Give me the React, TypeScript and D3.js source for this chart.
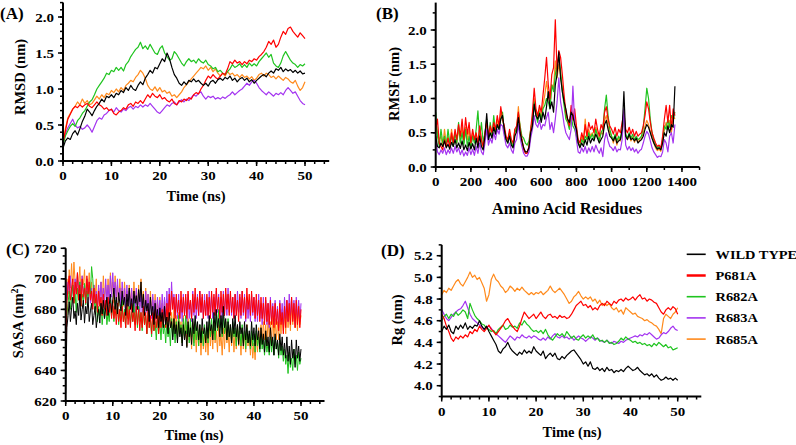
import React from 'react';
import * as d3 from 'd3';

// ---------- series metadata ----------
const seriesNames = ['WILD TYPE', 'P681A', 'R682A', 'R683A', 'R685A'];
const seriesColors = ['#000000', '#ff0000', '#1fc41f', '#a434f0', '#ff8a1c'];

// ---------- Panel A: RMSD (nm), time 0-50 ns, 0.5 ns step ----------
const rmsdWT = [0.18,0.28,0.32,0.30,0.38,0.42,0.36,0.45,0.55,0.62,0.72,0.68,0.63,0.70,0.76,0.80,0.86,0.82,0.90,0.88,0.92,0.88,0.94,0.92,0.98,0.95,1.02,0.98,1.05,1.00,0.98,1.05,1.10,1.06,1.15,1.20,1.26,1.22,1.30,1.28,1.35,1.42,1.38,1.50,1.42,1.30,1.20,1.15,1.08,1.05,1.10,1.06,1.12,1.10,1.14,1.10,1.12,1.08,1.05,1.08,1.04,1.10,1.12,1.08,1.13,1.15,1.12,1.16,1.14,1.18,1.12,1.15,1.10,1.14,1.16,1.12,1.15,1.10,1.13,1.08,1.12,1.15,1.18,1.20,1.17,1.22,1.25,1.22,1.28,1.26,1.30,1.24,1.28,1.25,1.27,1.23,1.26,1.22,1.25,1.21,1.22];
const rmsdP681A = [0.25,0.42,0.58,0.65,0.72,0.76,0.74,0.78,0.75,0.78,0.80,0.76,0.74,0.78,0.82,0.78,0.76,0.72,0.74,0.70,0.72,0.66,0.64,0.68,0.70,0.74,0.72,0.78,0.80,0.76,0.82,0.80,0.84,0.80,0.86,0.92,0.88,0.94,0.90,0.88,0.92,0.86,0.88,0.84,0.82,0.86,0.80,0.78,0.84,0.82,0.86,0.84,0.88,0.86,0.92,0.95,0.93,1.00,1.05,1.12,1.18,1.15,1.20,1.16,1.14,1.18,1.22,1.20,1.28,1.38,1.35,1.40,1.36,1.38,1.34,1.38,1.35,1.40,1.38,1.42,1.40,1.45,1.48,1.52,1.58,1.66,1.62,1.68,1.58,1.62,1.72,1.80,1.76,1.84,1.86,1.80,1.76,1.72,1.78,1.74,1.70];
const rmsdR682A = [0.22,0.35,0.42,0.48,0.52,0.48,0.56,0.60,0.66,0.70,0.76,0.82,0.85,0.92,1.00,1.05,1.10,1.15,1.22,1.20,1.26,1.24,1.30,1.26,1.30,1.25,1.34,1.38,1.45,1.50,1.55,1.58,1.65,1.56,1.60,1.55,1.62,1.56,1.50,1.48,1.56,1.60,1.50,1.45,1.40,1.42,1.52,1.48,1.42,1.36,1.32,1.38,1.42,1.38,1.40,1.36,1.42,1.38,1.36,1.40,1.34,1.32,1.28,1.30,1.24,1.26,1.22,1.20,1.24,1.28,1.34,1.30,1.32,1.35,1.30,1.34,1.30,1.36,1.32,1.35,1.32,1.38,1.42,1.46,1.50,1.44,1.48,1.36,1.32,1.30,1.36,1.46,1.52,1.46,1.40,1.36,1.34,1.30,1.34,1.32,1.35];
const rmsdR683A = [0.25,0.38,0.46,0.52,0.58,0.50,0.46,0.48,0.44,0.46,0.50,0.46,0.40,0.48,0.56,0.60,0.58,0.64,0.66,0.70,0.72,0.68,0.74,0.70,0.68,0.72,0.70,0.74,0.76,0.72,0.76,0.74,0.78,0.75,0.78,0.76,0.80,0.76,0.72,0.68,0.66,0.70,0.74,0.78,0.76,0.80,0.82,0.78,0.82,0.85,0.82,0.86,0.84,0.88,0.92,0.90,0.94,0.96,0.90,0.86,0.90,0.88,0.90,0.86,0.88,0.86,0.89,0.87,0.90,0.92,0.96,0.92,0.95,0.98,1.00,1.04,1.08,1.05,1.10,1.12,1.08,1.02,0.98,0.95,0.92,0.96,0.93,0.90,0.94,0.92,0.95,0.92,0.98,1.02,0.98,0.94,0.96,0.90,0.84,0.80,0.78];
const rmsdR685A = [0.25,0.45,0.60,0.66,0.72,0.76,0.82,0.78,0.86,0.80,0.84,0.78,0.80,0.85,0.90,0.86,0.92,0.88,0.94,0.92,0.98,0.95,1.00,0.96,1.02,0.98,1.05,1.08,1.12,1.10,1.16,1.20,1.26,1.22,1.15,1.05,1.00,0.98,1.03,0.97,1.02,0.96,0.98,0.94,0.96,0.90,0.92,0.88,0.92,0.96,1.02,1.06,1.10,1.14,1.18,1.22,1.26,1.30,1.28,1.32,1.26,1.30,1.24,1.28,1.22,1.18,1.22,1.18,1.24,1.20,1.22,1.18,1.20,1.16,1.20,1.16,1.18,1.14,1.17,1.12,1.15,1.20,1.22,1.18,1.22,1.20,1.16,1.18,1.14,1.18,1.15,1.12,1.16,1.14,1.10,1.08,1.12,1.04,0.98,1.02,1.10];

// ---------- Panel B: RMSF (nm), residues 0-1360, 10-residue step ----------
const rmsfWT = [0.45,0.30,0.28,0.35,0.30,0.38,0.28,0.33,0.26,0.36,0.30,0.40,0.28,0.35,0.27,0.38,0.25,0.32,0.24,0.36,0.26,0.34,0.25,0.42,0.28,0.45,0.30,0.25,0.45,0.78,0.40,0.50,0.42,0.58,0.48,0.62,0.55,0.70,0.75,0.55,0.40,0.35,0.45,0.32,0.28,0.45,0.52,0.72,0.50,0.38,0.28,0.22,0.22,0.28,0.50,0.60,0.92,0.75,0.70,0.78,0.65,0.80,0.70,0.88,1.10,0.85,0.95,0.80,1.20,1.35,1.68,1.30,1.10,0.95,0.85,0.70,0.65,0.80,0.75,0.62,0.55,0.35,0.28,0.35,0.30,0.40,0.32,0.45,0.35,0.42,0.38,0.48,0.42,0.35,0.40,0.45,0.62,0.68,0.55,0.45,0.42,0.38,0.45,0.35,0.38,0.40,0.55,1.10,0.45,0.40,0.48,0.40,0.42,0.38,0.42,0.35,0.38,0.40,0.45,0.55,0.62,0.58,0.50,0.42,0.35,0.30,0.26,0.28,0.25,0.35,0.50,0.45,0.60,0.50,0.62,0.58,1.18];
const rmsfP681A = [0.55,0.70,0.35,0.30,0.25,0.40,0.30,0.42,0.28,0.50,0.35,0.55,0.40,0.62,0.45,0.70,0.40,0.72,0.48,0.65,0.35,0.55,0.40,0.50,0.35,0.60,0.40,0.30,0.50,0.65,0.45,0.60,0.50,0.65,0.55,0.75,0.60,0.88,0.70,0.60,0.45,0.40,0.55,0.40,0.35,0.55,0.60,0.80,0.55,0.40,0.25,0.20,0.20,0.30,0.55,0.80,1.15,0.85,0.75,0.90,0.80,1.05,1.30,1.60,1.20,1.00,1.35,1.45,2.15,1.40,1.70,1.60,1.35,1.05,0.80,0.70,0.60,0.90,0.70,0.85,0.60,0.40,0.35,0.50,0.40,0.62,0.45,0.65,0.55,0.60,0.50,0.70,0.55,0.45,0.62,0.55,0.80,0.88,0.70,0.60,0.55,0.48,0.58,0.45,0.55,0.50,0.65,0.80,0.55,0.50,0.58,0.48,0.55,0.45,0.52,0.45,0.48,0.50,0.60,0.75,0.95,0.85,0.65,0.50,0.42,0.35,0.30,0.32,0.28,0.45,0.70,0.90,0.65,0.90,0.55,0.85,0.75];
const rmsfR682A = [0.80,0.45,0.30,0.55,0.35,0.45,0.30,0.55,0.35,0.45,0.30,0.50,0.35,0.65,0.35,0.50,0.32,0.55,0.30,0.45,0.28,0.45,0.35,0.55,0.82,0.40,0.65,0.35,0.50,0.70,0.40,0.65,0.45,0.75,0.50,0.60,0.55,0.70,0.80,0.50,0.40,0.35,0.50,0.35,0.30,0.55,0.50,0.78,0.60,0.45,0.42,0.35,0.32,0.38,0.55,0.70,0.95,0.75,0.65,0.80,0.70,0.85,0.90,1.00,0.95,0.85,1.20,1.10,1.35,1.50,1.60,1.40,1.10,0.90,0.70,0.65,0.55,0.75,0.60,0.55,0.45,0.35,0.30,0.40,0.35,0.45,0.40,0.50,0.42,0.48,0.40,0.55,0.45,0.38,0.50,0.55,0.85,1.05,0.75,0.55,0.45,0.40,0.48,0.38,0.45,0.40,0.55,0.70,0.48,0.42,0.50,0.42,0.48,0.40,0.45,0.40,0.42,0.45,0.58,0.85,1.15,1.00,0.70,0.50,0.40,0.32,0.28,0.30,0.27,0.40,0.60,0.55,0.70,0.58,0.75,0.70,0.80];
const rmsfR683A = [0.40,0.22,0.18,0.25,0.20,0.28,0.18,0.25,0.20,0.28,0.20,0.30,0.22,0.28,0.18,0.25,0.16,0.22,0.17,0.28,0.18,0.26,0.17,0.30,0.20,0.35,0.22,0.18,0.35,0.55,0.32,0.42,0.35,0.50,0.40,0.55,0.48,0.62,0.60,0.45,0.32,0.28,0.35,0.25,0.20,0.35,0.40,0.62,0.42,0.30,0.20,0.16,0.16,0.22,0.42,0.55,0.75,0.62,0.58,0.68,0.55,0.62,0.60,0.72,0.80,0.55,0.65,0.50,0.70,0.95,1.30,0.95,0.80,0.62,0.50,0.45,0.40,0.55,1.18,0.65,0.40,0.22,0.20,0.28,0.22,0.30,0.20,0.28,0.22,0.30,0.22,0.32,0.25,0.20,0.28,0.15,0.40,0.50,0.38,0.30,0.28,0.24,0.30,0.22,0.26,0.25,0.40,0.85,0.32,0.25,0.30,0.24,0.28,0.22,0.26,0.20,0.24,0.26,0.35,0.45,0.52,0.48,0.38,0.28,0.22,0.18,0.14,0.16,0.15,0.22,0.40,0.35,0.22,0.45,0.50,0.35,0.62];
const rmsfR685A = [0.60,0.50,0.40,0.45,0.30,0.55,0.35,0.45,0.32,0.55,0.38,0.50,0.35,0.55,0.38,0.60,0.35,0.58,0.40,0.55,0.32,0.50,0.38,0.48,0.35,0.55,0.38,0.28,0.48,0.62,0.45,0.55,0.48,0.62,0.52,0.68,0.58,0.80,0.72,0.55,0.42,0.38,0.50,0.36,0.32,0.52,0.55,0.88,0.55,0.40,0.28,0.22,0.22,0.28,0.52,0.70,1.00,0.80,0.72,0.85,0.72,0.90,1.05,1.25,1.05,0.90,1.20,1.15,1.55,1.30,1.50,1.35,1.15,0.95,0.75,0.68,0.58,0.82,0.68,0.72,0.55,0.35,0.30,0.45,0.35,0.70,0.40,0.55,0.45,0.50,0.42,0.58,0.48,0.38,0.50,0.48,0.68,0.75,0.60,0.50,0.45,0.35,0.45,0.32,0.42,0.38,0.52,0.70,0.45,0.40,0.46,0.38,0.44,0.36,0.42,0.36,0.40,0.42,0.50,0.60,0.68,0.62,0.52,0.42,0.35,0.28,0.24,0.26,0.23,0.36,0.55,0.65,0.55,0.68,0.50,0.75,0.70];

// ---------- Panel C: SASA (nm^2), time 0-50 ns, 0.25 ns step ----------
const sasaWT = [
  625,668,676,685,672,681,688,674,679,670,684,676,690,673,680,686,671,682,677,688,
  672,679,684,670,676,682,668,675,680,671,684,677,686,674,681,688,676,683,690,678,
  686,694,680,688,677,691,684,679,692,683,688,676,690,682,694,680,687,678,692,684,
  689,680,693,685,698,681,690,676,686,679,684,672,688,676,682,670,684,674,680,668,
  681,672,678,668,682,670,675,664,678,668,672,660,674,664,670,658,672,662,668,656,
  670,660,666,655,672,662,668,657,674,664,676,666,672,660,670,658,674,664,668,658,
  672,661,676,666,670,660,678,666,680,668,674,662,676,664,682,668,674,660,672,662,
  670,658,674,664,676,662,670,657,672,664,668,656,672,660,670,658,666,656,672,660,
  668,656,670,660,666,654,668,657,664,652,666,656,662,652,668,656,662,650,664,654,
  660,650,664,653,662,650,658,648,662,646,656,644,660,648,654,642,660,648,656,646,
  654];
const sasaP681A = [
  640,684,696,702,686,694,700,684,698,690,704,686,696,682,700,688,694,684,702,690,
  698,686,692,680,694,684,690,678,692,682,688,676,690,680,686,676,688,678,684,674,
  686,674,682,670,684,672,680,668,682,672,678,668,684,670,680,668,684,672,678,666,
  682,670,680,666,678,668,682,670,678,664,680,668,676,664,678,666,680,668,676,664,
  678,668,680,670,682,668,684,672,690,676,692,680,688,674,690,678,686,674,692,678,
  688,676,690,674,692,680,686,674,690,678,694,680,688,676,692,678,690,674,686,676,
  690,676,688,674,692,678,690,676,694,680,688,674,692,678,690,676,694,680,690,676,
  692,678,688,674,690,676,686,672,690,676,692,678,688,674,694,680,690,676,692,678,
  688,674,690,676,686,672,688,674,684,670,688,672,684,670,686,670,682,668,684,670,
  680,666,684,670,678,664,682,668,686,672,684,670,688,672,684,668,686,670,682,668,
  680];
const sasaR682A = [
  665,676,684,692,680,688,696,684,690,678,694,686,698,682,690,685,697,683,692,688,
  696,690,708,700,688,680,686,672,682,676,684,670,680,674,684,670,678,672,686,676,
  682,672,686,676,684,670,680,674,686,672,680,668,684,674,682,670,678,672,684,670,
  680,668,682,672,678,666,680,670,676,664,678,668,674,662,676,666,672,660,674,664,
  672,660,674,664,670,658,672,662,668,656,674,662,670,658,672,660,676,664,670,658,
  674,662,676,664,670,658,674,662,668,656,672,660,668,656,670,658,666,656,670,660,
  668,658,672,662,674,664,670,660,676,666,680,668,674,662,676,664,672,660,674,662,
  670,658,672,662,668,656,670,660,666,656,670,658,666,654,668,658,664,654,666,656,
  664,652,666,656,662,652,664,654,660,650,662,652,658,650,662,652,660,650,662,654,
  658,648,660,650,656,646,654,644,650,638,652,642,648,640,654,644,650,640,652,644,
  648];
const sasaR683A = [
  700,686,698,690,702,688,696,686,700,690,704,688,698,686,702,690,696,684,700,688,
  698,684,694,682,696,684,692,680,696,684,698,686,694,682,700,686,696,684,702,688,
  704,690,698,684,700,686,694,682,698,684,694,680,696,682,692,680,694,682,690,678,
  694,680,690,678,692,678,688,676,692,678,690,676,688,674,690,676,686,674,688,676,
  686,674,690,676,688,674,692,676,694,678,698,680,690,676,688,674,690,674,686,672,
  690,676,688,672,690,674,686,672,692,676,688,674,690,676,692,678,688,674,690,676,
  688,674,692,678,690,674,688,676,692,678,690,674,688,672,692,676,690,676,694,678,
  690,676,688,674,690,676,692,678,688,674,692,676,690,672,688,674,686,672,690,676,
  688,672,686,672,690,674,684,670,688,672,686,670,684,668,688,672,684,670,686,672,
  682,668,686,672,684,670,688,674,686,672,690,676,688,674,686,670,688,674,686,672,
  684];
const sasaR685A = [
  680,700,690,706,694,710,692,711,698,690,704,694,708,690,702,696,706,688,700,692,
  704,688,698,684,696,688,700,682,694,686,698,684,702,688,696,684,700,686,704,690,
  698,684,702,688,696,682,700,686,694,682,698,684,692,680,696,682,694,680,698,684,
  692,680,696,682,700,684,692,678,694,680,690,676,692,678,688,674,690,676,686,672,
  688,674,684,670,686,672,680,666,684,668,678,664,680,666,676,660,678,664,672,658,
  676,660,672,656,674,660,670,654,672,658,668,652,670,656,666,650,668,654,664,652,
  666,650,670,656,668,654,672,658,666,652,670,656,664,650,668,654,672,658,666,652,
  670,656,668,652,666,654,670,656,664,650,668,654,666,652,670,656,664,650,662,648,
  658,647,664,652,668,656,670,658,672,660,670,656,674,662,672,658,676,662,674,660,
  672,660,676,664,680,666,678,664,682,668,680,666,684,670,682,668,680,666,684,670,
  676];

// ---------- Panel D: Rg (nm), time 0-50 ns, 0.5 ns step ----------
const rgWT = [4.50,4.55,4.52,4.56,4.50,4.48,4.55,4.52,4.56,4.53,4.58,4.52,4.55,4.53,4.56,4.55,4.60,4.55,4.52,4.55,4.50,4.46,4.42,4.38,4.32,4.30,4.34,4.36,4.40,4.35,4.32,4.30,4.28,4.31,4.29,4.33,4.30,4.32,4.30,4.36,4.32,4.30,4.28,4.32,4.25,4.28,4.30,4.27,4.30,4.25,4.24,4.27,4.25,4.28,4.30,4.32,4.33,4.30,4.27,4.24,4.20,4.22,4.18,4.22,4.16,4.15,4.17,4.14,4.16,4.13,4.17,4.14,4.15,4.12,4.14,4.13,4.15,4.13,4.16,4.18,4.16,4.14,4.15,4.17,4.14,4.12,4.10,4.11,4.09,4.11,4.08,4.10,4.07,4.05,4.06,4.08,4.06,4.07,4.05,4.07,4.05];
const rgP681A = [4.66,4.62,4.55,4.50,4.44,4.41,4.45,4.43,4.46,4.44,4.47,4.45,4.50,4.48,4.52,4.50,4.55,4.52,4.50,4.53,4.56,4.52,4.50,4.47,4.50,4.53,4.56,4.60,4.62,4.58,4.55,4.52,4.50,4.55,4.62,4.68,4.65,4.62,4.64,4.66,4.62,4.65,4.68,4.64,4.62,4.65,4.66,4.63,4.64,4.62,4.65,4.63,4.64,4.62,4.63,4.66,4.70,4.74,4.76,4.78,4.74,4.75,4.72,4.74,4.70,4.72,4.70,4.74,4.76,4.74,4.78,4.76,4.74,4.78,4.76,4.79,4.80,4.78,4.81,4.79,4.80,4.82,4.79,4.82,4.84,4.80,4.81,4.78,4.80,4.79,4.77,4.76,4.72,4.68,4.66,4.70,4.72,4.70,4.73,4.71,4.66];
const rgR682A = [4.60,4.64,4.66,4.62,4.66,4.64,4.68,4.65,4.67,4.70,4.68,4.62,4.76,4.70,4.65,4.62,4.60,4.57,4.56,4.53,4.52,4.50,4.51,4.48,4.52,4.54,4.56,4.52,4.53,4.56,4.54,4.55,4.53,4.58,4.56,4.60,4.57,4.55,4.52,4.50,4.51,4.49,4.51,4.48,4.52,4.47,4.44,4.42,4.45,4.48,4.46,4.48,4.45,4.50,4.47,4.44,4.46,4.43,4.42,4.45,4.47,4.44,4.46,4.44,4.47,4.43,4.44,4.41,4.42,4.40,4.42,4.39,4.40,4.38,4.39,4.41,4.44,4.42,4.45,4.43,4.42,4.40,4.41,4.39,4.40,4.38,4.39,4.37,4.38,4.36,4.39,4.37,4.40,4.38,4.36,4.38,4.35,4.36,4.33,4.34,4.35];
const rgR683A = [4.70,4.66,4.62,4.60,4.63,4.66,4.68,4.70,4.71,4.74,4.78,4.72,4.66,4.62,4.60,4.58,4.56,4.54,4.52,4.54,4.55,4.53,4.50,4.48,4.46,4.44,4.42,4.40,4.43,4.46,4.44,4.42,4.45,4.44,4.47,4.45,4.44,4.46,4.44,4.46,4.45,4.43,4.42,4.44,4.42,4.45,4.43,4.46,4.48,4.45,4.44,4.46,4.44,4.45,4.43,4.45,4.42,4.44,4.46,4.44,4.43,4.41,4.43,4.45,4.44,4.42,4.44,4.42,4.41,4.40,4.42,4.40,4.39,4.41,4.40,4.39,4.41,4.40,4.42,4.43,4.44,4.45,4.46,4.45,4.47,4.46,4.48,4.47,4.49,4.47,4.45,4.43,4.44,4.47,4.49,4.48,4.50,4.53,4.55,4.52,4.51];
const rgR685A = [4.84,4.88,4.86,4.90,4.88,4.92,4.96,4.98,4.94,4.92,4.96,5.00,5.05,5.00,5.02,4.98,5.00,4.95,4.90,4.78,4.84,4.98,5.03,4.98,4.96,4.92,4.90,4.86,4.88,4.92,4.90,4.87,4.90,4.88,4.91,4.88,4.86,4.84,4.86,4.84,4.86,4.85,4.87,4.84,4.86,4.88,4.92,4.88,4.86,4.88,4.90,4.87,4.84,4.80,4.76,4.78,4.82,4.84,4.87,4.83,4.80,4.82,4.80,4.82,4.78,4.80,4.76,4.79,4.74,4.76,4.74,4.76,4.72,4.70,4.72,4.68,4.70,4.66,4.72,4.70,4.68,4.66,4.67,4.64,4.63,4.62,4.60,4.61,4.59,4.58,4.56,4.55,4.52,4.48,4.62,4.66,4.64,4.62,4.66,4.68,4.72];

// ---------- helpers ----------
const FONT = '"Liberation Serif", "Times New Roman", serif';

type Series = { values: number[]; color: string };

type PanelCfg = {
  x0: number; x1: number; yBottom: number; yTop: number;
  xDomain: [number, number]; yDomain: [number, number];
  xMajor: number[]; xMinor: number[]; yMajor: number[]; yMinor: number[];
  yFmt: (v: number) => string;
  xSpan: [number, number];
  series: Series[];
  strokeW: number;
};

function Panel({ cfg }: { cfg: PanelCfg }) {
  const x = d3.scaleLinear().domain(cfg.xDomain).range([cfg.x0, cfg.x1]);
  const y = d3.scaleLinear().domain(cfg.yDomain).range([cfg.yBottom, cfg.yTop]);
  const major = 5, minor = 3;
  return (
    <g>
      <g>
        {cfg.series.map((s, si) => {
          const n = s.values.length;
          const step = (cfg.xSpan[1] - cfg.xSpan[0]) / (n - 1);
          const line = d3.line<number>()
            .x((_, i) => x(cfg.xSpan[0] + i * step))
            .y((v) => y(v));
          return <path key={si} d={line(s.values) || ''} fill="none" stroke={s.color}
            strokeWidth={cfg.strokeW} strokeLinejoin="round" />;
        })}
      </g>
      <line x1={cfg.x0} x2={cfg.x1} y1={cfg.yBottom} y2={cfg.yBottom} stroke="#000" strokeWidth={2} />
      <line x1={cfg.x0} x2={cfg.x0} y1={cfg.yBottom + 1} y2={cfg.yTop} stroke="#000" strokeWidth={2} />
      {cfg.xMinor.map((t) => (
        <line key={'xm' + t} x1={x(t)} x2={x(t)} y1={cfg.yBottom} y2={cfg.yBottom + minor} stroke="#000" strokeWidth={1.5} />
      ))}
      {cfg.xMajor.map((t) => (
        <g key={'xM' + t}>
          <line x1={x(t)} x2={x(t)} y1={cfg.yBottom} y2={cfg.yBottom + major} stroke="#000" strokeWidth={1.5} />
          <text transform={`translate(${x(t)},${cfg.yBottom + 19}) scale(1.2,1)`} textAnchor="middle"
            fontFamily={FONT} fontWeight="bold" fontSize={12.5}>{String(t)}</text>
        </g>
      ))}
      {cfg.yMinor.map((t) => (
        <line key={'ym' + t} x1={cfg.x0} x2={cfg.x0 - minor} y1={y(t)} y2={y(t)} stroke="#000" strokeWidth={1.5} />
      ))}
      {cfg.yMajor.map((t) => (
        <g key={'yM' + t}>
          <line x1={cfg.x0} x2={cfg.x0 - major} y1={y(t)} y2={y(t)} stroke="#000" strokeWidth={1.5} />
          <text transform={`translate(${cfg.x0 - 9},${y(t) + 4.5}) scale(1.2,1)`} textAnchor="end"
            fontFamily={FONT} fontWeight="bold" fontSize={12.5}>{cfg.yFmt(t)}</text>
        </g>
      ))}
    </g>
  );
}

const f1 = d3.format('.1f');
const f0 = d3.format('d');

const rangeStep = (a: number, b: number, s: number) => d3.range(a, b + s / 2, s).map((v) => +v.toFixed(3));

export default function App() {
  const timeMajor = [0, 10, 20, 30, 40, 50];
  const timeMinor = rangeStep(0, 54, 2);

  const cfgA: PanelCfg = {
    x0: 63, x1: 63 + 55 * 4.84, yBottom: 161, yTop: 161 - 2.2 * 72,
    xDomain: [0, 55], yDomain: [0, 2.2],
    xMajor: timeMajor, xMinor: timeMinor,
    yMajor: [0, 0.5, 1.0, 1.5, 2.0], yMinor: rangeStep(0, 2.2, 0.1), yFmt: f1,
    xSpan: [0, 50],
    series: [
      { values: rmsdR685A, color: seriesColors[4] },
      { values: rmsdR683A, color: seriesColors[3] },
      { values: rmsdR682A, color: seriesColors[2] },
      { values: rmsdP681A, color: seriesColors[1] },
      { values: rmsdWT, color: seriesColors[0] },
    ],
    strokeW: 1.2,
  };
  const cfgB: PanelCfg = {
    x0: 435.7, x1: 435.7 + 1500 * 0.1759, yBottom: 167, yTop: 167 - 2.4 * 68.5,
    xDomain: [0, 1500], yDomain: [0, 2.4],
    xMajor: [0, 200, 400, 600, 800, 1000, 1200, 1400], xMinor: rangeStep(0, 1500, 100),
    yMajor: [0, 0.5, 1.0, 1.5, 2.0], yMinor: rangeStep(0, 2.25, 0.25), yFmt: f1,
    xSpan: [0, 1360],
    series: [
      { values: rmsfR685A, color: seriesColors[4] },
      { values: rmsfR682A, color: seriesColors[2] },
      { values: rmsfP681A, color: seriesColors[1] },
      { values: rmsfR683A, color: seriesColors[3] },
      { values: rmsfWT, color: seriesColors[0] },
    ],
    strokeW: 1.2,
  };
  const cfgC: PanelCfg = {
    x0: 65.7, x1: 65.7 + 55 * 4.706, yBottom: 401, yTop: 248.3,
    xDomain: [0, 55], yDomain: [620, 720],
    xMajor: timeMajor, xMinor: timeMinor,
    yMajor: [620, 640, 660, 680, 700, 720], yMinor: rangeStep(620, 720, 5), yFmt: f0,
    xSpan: [0, 50],
    series: [
      { values: sasaR685A, color: seriesColors[4] },
      { values: sasaR683A, color: seriesColors[3] },
      { values: sasaR682A, color: seriesColors[2] },
      { values: sasaP681A, color: seriesColors[1] },
      { values: sasaWT, color: seriesColors[0] },
    ],
    strokeW: 1.0,
  };
  const cfgD: PanelCfg = {
    x0: 441.7, x1: 441.7 + 55 * 4.72, yBottom: 385.7 + 0.1 * 108.33, yTop: 385.7 - 1.3 * 108.33,
    xDomain: [0, 55], yDomain: [3.9, 5.3],
    xMajor: timeMajor, xMinor: timeMinor,
    yMajor: [4.0, 4.2, 4.4, 4.6, 4.8, 5.0, 5.2], yMinor: rangeStep(3.9, 5.3, 0.1), yFmt: f1,
    xSpan: [0, 50],
    series: [
      { values: rgR685A, color: seriesColors[4] },
      { values: rgR683A, color: seriesColors[3] },
      { values: rgR682A, color: seriesColors[2] },
      { values: rgP681A, color: seriesColors[1] },
      { values: rgWT, color: seriesColors[0] },
    ],
    strokeW: 1.2,
  };

  const titleStyle = { fontFamily: FONT, fontWeight: 'bold' as const };

  return (
    <svg width={796} height={445} style={{ position: 'absolute', left: 0, top: 0, background: '#fff' }}>
      <rect x={0} y={0} width={796} height={445} fill="#fff" />
      <Panel cfg={cfgA} />
      <Panel cfg={cfgB} />
      <Panel cfg={cfgC} />
      <Panel cfg={cfgD} />

      <text x={0} y={19} fontSize={17} {...titleStyle}>(A)</text>
      <text x={376} y={19} fontSize={17} {...titleStyle}>(B)</text>
      <text x={6} y={255} fontSize={17} {...titleStyle}>(C)</text>
      <text x={381} y={256} fontSize={17} {...titleStyle}>(D)</text>

      <text x={196} y={201} textAnchor="middle" fontSize={14.5} {...titleStyle}>Time (ns)</text>
      <text x={567} y={214} textAnchor="middle" fontSize={16.5} {...titleStyle}>Amino Acid Residues</text>
      <text x={194} y={440} textAnchor="middle" fontSize={14.5} {...titleStyle}>Time (ns)</text>
      <text x={572} y={437} textAnchor="middle" fontSize={14.5} {...titleStyle}>Time (ns)</text>

      <text transform="translate(25,77) rotate(-90)" textAnchor="middle" fontSize={14.5} {...titleStyle}>RMSD (nm)</text>
      <text transform="translate(399,84) rotate(-90)" textAnchor="middle" fontSize={14.5} {...titleStyle}>RMSF (nm)</text>
      <text transform="translate(23,321) rotate(-90)" textAnchor="middle" fontSize={14.5} {...titleStyle}>
        SASA (nm<tspan dy={-5} fontSize={10}>2</tspan><tspan dy={5}>)</tspan>
      </text>
      <text transform="translate(402,320) rotate(-90)" textAnchor="middle" fontSize={14.5} {...titleStyle}>Rg (nm)</text>

      {seriesNames.map((name, i) => {
        const cy = 254.3 + i * 21.2;
        return (
          <g key={name}>
            <line x1={686.7} x2={705.7} y1={cy} y2={cy} stroke={seriesColors[i]} strokeWidth={i === 1 ? 2.5 : 1.6} />
            <text transform={`translate(715.5,${cy + 4.5}) scale(1.2,1)`} fontSize={12} {...titleStyle}>{name}</text>
          </g>
        );
      })}
    </svg>
  );
}
